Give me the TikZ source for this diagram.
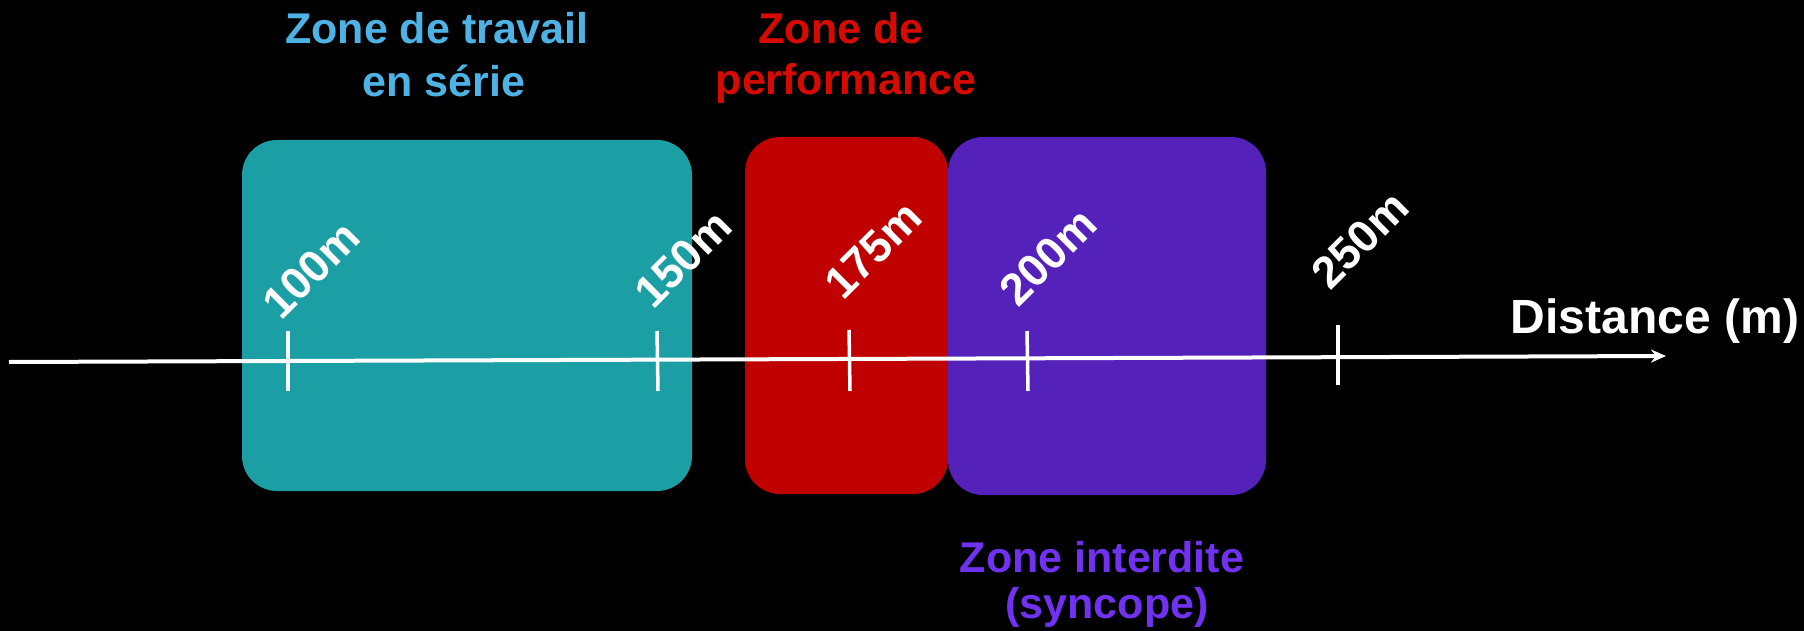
\documentclass[tikz,border=0pt]{standalone}
\usepackage{fontspec}
\setmainfont{Liberation Sans}
\usetikzlibrary{arrows.meta}
\definecolor{tealbox}{RGB}{28,159,164}
\definecolor{redbox}{RGB}{192,0,0}
\definecolor{purplebox}{RGB}{85,33,187}
\definecolor{tealtext}{RGB}{77,178,228}
\definecolor{redtext}{RGB}{214,10,0}
\definecolor{purpletext}{RGB}{112,50,240}
\tikzset{
  zonebox/.style={rounded corners=35pt},
  title/.style={font=\bfseries\fontsize{43}{50}\selectfont, anchor=base, inner sep=0pt},
  marklabel/.style={font=\bfseries\fontsize{45}{52}\selectfont, text=white, rotate=45, inner sep=0pt},
  tickline/.style={draw=white, line width=3.5pt},
  axisline/.style={draw=white, line width=4pt, -{Stealth[length=15pt,width=13pt]}}
}
\begin{document}
\begin{tikzpicture}[x=1pt,y=-1pt]
\fill[black] (0,0) rectangle (1804,631);
\useasboundingbox (0,0) rectangle (1804,631);

% zones
\fill[tealbox, zonebox] (242,140) rectangle (692,491);
\fill[redbox, zonebox] (745,137) rectangle (948,494);
\fill[purplebox, zonebox] (948,137) rectangle (1266,495);

% titles
\node[title, text=tealtext] (t1a) at (437,44) {Zone de travail};
\node[title, text=tealtext] (t1b) at (444,97) {en série};
\node[title, text=redtext] (t2a) at (841,44) {Zone de};
\node[title, text=redtext] (t2b) at (846,95) {performance};
\node[title, text=purpletext] (t3a) at (1102,572) {Zone interdite};
\node[title, text=purpletext] (t3b) at (1107,618) {(syncope)};
\node[font=\bfseries\fontsize{48}{54}\selectfont, text=white, anchor=base, inner sep=0pt] (dist) at (1655,333) {Distance (m)};

% axis
\coordinate (axstart) at (9,362);
\coordinate (axend) at (1666,356);
\draw[axisline] (axstart) -- (axend);

% ticks
\coordinate (k100a) at (288,331); \coordinate (k100b) at (288,391);
\coordinate (k150a) at (657,331); \coordinate (k150b) at (658,391);
\coordinate (k175a) at (849,330); \coordinate (k175b) at (850,391);
\coordinate (k200a) at (1027,331); \coordinate (k200b) at (1028,391);
\coordinate (k250a) at (1338,325); \coordinate (k250b) at (1338,385);
\draw[tickline] (k100a) -- (k100b);
\draw[tickline] (k150a) -- (k150b);
\draw[tickline] (k175a) -- (k175b);
\draw[tickline] (k200a) -- (k200b);
\draw[tickline] (k250a) -- (k250b);

% labels
\node[marklabel] (l100) at (311,270) {100m};
\node[marklabel] (l150) at (683,259) {150m};
\node[marklabel] (l175) at (873,250) {175m};
\node[marklabel] (l200) at (1048,257) {200m};
\node[marklabel] (l250) at (1360,240) {250m};
\end{tikzpicture}
\end{document}
